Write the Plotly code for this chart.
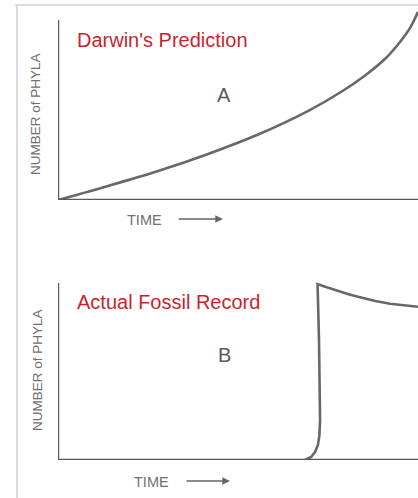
import plotly.graph_objects as go

# ---- data (time and phyla in relative units, axis top = 100) ----
time_a = [0, 13.9, 27.8, 41.7, 55.6, 69.4, 78.6, 85.3, 91.1, 95.0, 97.8, 100]
phyla_a = [0, 7.8, 16.1, 25.6, 36.4, 49.4, 60.0, 69.2, 78.9, 87.8, 95.6, 104.5]

time_b = [68.6, 70.3, 71.4, 72.2, 72.6, 72.8, 72.5, 72.1, 73.6, 75.6, 78.3, 80.7, 83.1, 85.5,
          87.8, 92.2, 96.0, 100]
phyla_b = [0, 1.7, 4.5, 8.5, 13.6, 22.6, 67.8, 99.4, 98.3, 96.9, 95.1, 93.7, 92.4, 91.2,
           90.0, 88.3, 87.3, 86.6]

title_a = "Darwin's Prediction"
title_b = "Actual Fossil Record"
label_a = "A"
label_b = "B"
y_title = "NUMBER of PHYLA"
x_title = "TIME"

W, H = 418, 498
FONT = "Liberation Sans, Arial, sans-serif"
RED = "#cc1f2d"
CURVE = "#686868"
AXIS = "#585858"
TEXT = "#707070"


def px(x):
    return x / W


def py(y):
    return (H - y) / H


fig = go.Figure()
fig.add_trace(go.Scatter(x=time_a, y=phyla_a, mode="lines", xaxis="x", yaxis="y",
                         line=dict(color=CURVE, width=2.6, shape="spline", smoothing=1.0),
                         hoverinfo="skip", showlegend=False))
fig.add_trace(go.Scatter(x=time_b, y=phyla_b, mode="lines", xaxis="x2", yaxis="y2",
                         line=dict(color=CURVE, width=2.6),
                         hoverinfo="skip", showlegend=False))

# panel geometry (page pixels)
x_left = 58
a_top, a_base, a_axis_top = 6, 200, 20
b_top, b_base, b_axis_top = 278, 460, 283
a_scale = (a_base - a_axis_top) / 100.0
b_scale = (b_base - b_axis_top) / 100.0

ax_common = dict(range=[0, 100], showgrid=False, zeroline=False, showline=False,
                 showticklabels=False, ticks="", fixedrange=True)
fig.update_layout(
    width=W, height=H,
    margin=dict(l=0, r=0, t=0, b=0),
    paper_bgcolor="white", plot_bgcolor="rgba(0,0,0,0)",
    hovermode=False,
    xaxis=dict(domain=[px(x_left), 1], anchor="y", **ax_common),
    yaxis=dict(domain=[py(a_base), py(a_top)], anchor="x",
               range=[0, (a_base - a_top) / a_scale],
               showgrid=False, zeroline=False, showline=False, showticklabels=False,
               ticks="", fixedrange=True),
    xaxis2=dict(domain=[px(x_left), 1], anchor="y2", **ax_common),
    yaxis2=dict(domain=[py(b_base), py(b_top)], anchor="x2",
                range=[0, (b_base - b_top) / b_scale],
                showgrid=False, zeroline=False, showline=False, showticklabels=False,
                ticks="", fixedrange=True),
)

shapes = []
# axes lines
for xr, yr in (("x", "y"), ("x2", "y2")):
    shapes.append(dict(type="line", xref=xr, yref=yr, x0=0, x1=0, y0=0, y1=100,
                       line=dict(color=AXIS, width=2.4)))
    shapes.append(dict(type="line", xref=xr, yref=yr, x0=0, x1=100, y0=0, y1=0,
                       line=dict(color=AXIS, width=2.4)))
# light page frame
shapes.append(dict(type="line", xref="paper", yref="paper", x0=px(15), x1=1,
                   y0=py(5), y1=py(5), line=dict(color="#d2d2d2", width=1.5)))
shapes.append(dict(type="line", xref="paper", yref="paper", x0=px(17), x1=px(17),
                   y0=0, y1=py(5), line=dict(color="#d2d2d2", width=1.5)))
fig.update_layout(shapes=shapes)

ann = []


def text(t, x, y, size, color, angle=0):
    ann.append(dict(text=t, x=px(x), y=py(y), xref="paper", yref="paper",
                    xanchor="center", yanchor="middle", showarrow=False,
                    textangle=angle, font=dict(family=FONT, size=size, color=color)))


text(title_a, 162, 40, 20, RED)
text(label_a, 224, 95, 20, "#5a5a5a")
text(title_b, 168, 302, 20, RED)
text(label_b, 224, 355, 20, "#5a5a5a")
text(y_title, 36, 114, 13.5, TEXT, -90)
text(y_title, 37, 370, 13.5, TEXT, -90)
text(x_title, 144, 220, 14.5, TEXT)
text(x_title, 151, 482, 14.5, TEXT)

for x0, x1, y in ((177, 223, 219), (185, 230, 481)):
    ann.append(dict(x=px(x1), y=py(y), xref="paper", yref="paper", text="",
                    showarrow=True, ax=x0 - x1, ay=0, axref="pixel", ayref="pixel",
                    arrowhead=2, arrowsize=1.1, arrowwidth=1.4, arrowcolor="#666666"))
fig.update_layout(annotations=ann)

# remove the browser's default 8px body margin so the figure fills the window
fig.write_html("out.html",
               config={"displayModeBar": False, "staticPlot": True},
               post_script="document.body.style.margin='0';document.body.style.overflow='hidden';")
